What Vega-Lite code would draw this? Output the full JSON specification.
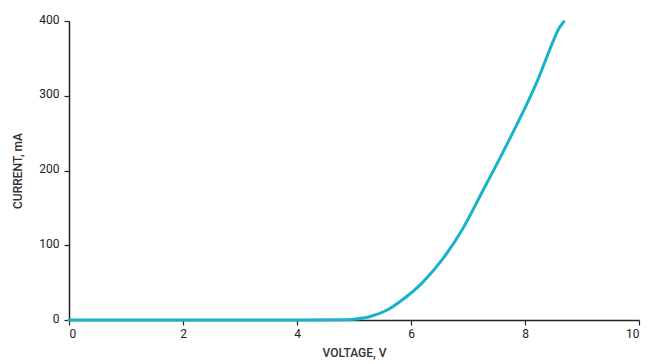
{
  "$schema": "https://vega.github.io/schema/vega-lite/v6.json",
  "width": 648,
  "height": 364,
  "autosize": {"type": "fit", "contains": "padding"},
  "padding": {"left": 11, "top": 13, "right": 8, "bottom": 6},
  "background": "white",
  "config": {
    "view": {"stroke": null},
    "axis": {
      "grid": false,
      "domainColor": "#222222",
      "domainWidth": 1.5,
      "tickColor": "#222222",
      "tickWidth": 1.2,
      "tickSize": 5,
      "labelFont": "Roboto",
      "labelFontSize": 12,
      "labelColor": "#222222",
      "titleFont": "Roboto",
      "titleFontSize": 12,
      "titleFontWeight": 500,
      "titleColor": "#333333"
    }
  },
  "data": {
    "values": [
      {"voltage": 0, "current": 0},
      {"voltage": 1, "current": 0},
      {"voltage": 2, "current": 0},
      {"voltage": 3, "current": 0},
      {"voltage": 4, "current": 0},
      {"voltage": 4.8, "current": 0.2},
      {"voltage": 5.0, "current": 1},
      {"voltage": 5.3, "current": 5},
      {"voltage": 5.6, "current": 14},
      {"voltage": 5.85, "current": 27},
      {"voltage": 6.2, "current": 50},
      {"voltage": 6.55, "current": 81},
      {"voltage": 6.9, "current": 121},
      {"voltage": 7.26, "current": 173},
      {"voltage": 7.61, "current": 224},
      {"voltage": 7.97, "current": 279},
      {"voltage": 8.2, "current": 317},
      {"voltage": 8.5, "current": 374},
      {"voltage": 8.58, "current": 388},
      {"voltage": 8.68, "current": 399}
    ]
  },
  "mark": {"type": "line", "color": "#19B2CC", "strokeWidth": 3, "strokeCap": "round", "interpolate": "monotone"},
  "encoding": {
    "x": {
      "field": "voltage",
      "type": "quantitative",
      "scale": {"domain": [0, 10], "nice": false},
      "axis": {"values": [0, 2, 4, 6, 8, 10], "title": "VOLTAGE, V", "labelPadding": 3, "titlePadding": 8}
    },
    "y": {
      "field": "current",
      "type": "quantitative",
      "scale": {"domain": [0, 400], "nice": false},
      "axis": {"values": [0, 100, 200, 300, 400], "title": "CURRENT, mA", "labelPadding": 5, "titlePadding": 14, "labelOffset": -2}
    }
  }
}
